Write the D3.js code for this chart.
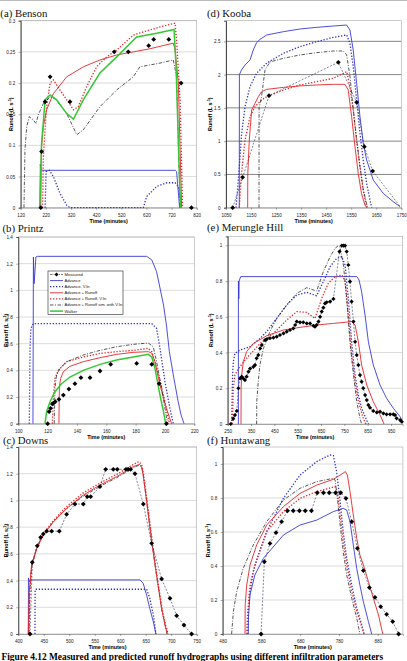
<!DOCTYPE html>
<html><head><meta charset="utf-8">
<script src="https://cdn.jsdelivr.net/npm/d3@7"></script>
<style>html,body{margin:0;padding:0;background:#fff;overflow:hidden}</style>
</head><body>
<svg id="c" width="407" height="661"></svg>
<script>
// ---------- (a) Benson ----------
const aMeasured = [[200,0],[203,0.09],[217,0.17],[237,0.21],[316,0.17],[492,0.25],[548,0.25],[629,0.26],[649,0.27],[709,0.27],[758,0.2],[799,0]];
const aAdvance = [[197,0],[198,0.07],[200,0.061],[205,0.06],[735,0.06],[740,0.058],[752,0]];
const aAdvanceVIn = [[217,0],[221,0.058],[234,0.06],[250,0.05],[276,0.023],[303,0.004],[316,0],[608,0],[621,0.018],[661,0.034],[701,0.04],[734,0.04],[747,0.034],[760,0]];
const aAdvRunoff = [[200,0],[202,0.093],[210,0.13],[223,0.157],[250,0.183],[303,0.21],[369,0.226],[435,0.237],[502,0.245],[568,0.25],[634,0.255],[727,0.264],[734,0.253],[747,0.2],[760,0]];
const aAdvRunoffVIn = [[207,0],[210,0.082],[223,0.162],[237,0.2],[250,0.205],[276,0.189],[303,0.173],[330,0.157],[349,0.162],[382,0.194],[422,0.226],[462,0.242],[502,0.253],[568,0.277],[608,0.282],[674,0.29],[734,0.296],[740,0.269],[754,0.173],[764,0]];
const aSimVIn = [[133,0],[137,0.093],[144,0.13],[154,0.146],[170,0.141],[181,0.135],[190,0.149],[210,0.167],[237,0.178],[257,0.175],[303,0.151],[343,0.117],[369,0.125],[435,0.162],[502,0.189],[568,0.21],[594,0.226],[674,0.232],[727,0.237],[740,0.21],[754,0]];
const aWalker = [[196,0],[203,0.103],[217,0.173],[237,0.181],[263,0.173],[303,0.151],[330,0.142],[369,0.173],[435,0.216],[502,0.242],[581,0.274],[661,0.28],[730,0.286],[738,0.226],[750,0.066],[756,0]];

// ---------- (b) Printz ----------
const bMeasured = [[120,0],[121,0.09],[122,0.115],[123.2,0.148],[124,0.155],[125.2,0.165],[127.7,0.183],[130.7,0.215],[134.5,0.26],[138.6,0.3],[142.7,0.345],[148.9,0.345],[155.7,0.395],[163,0.445],[180.7,0.452],[191,0.445],[196,0.3],[201,0]];
const bAdvance = [[110,0],[110.3,1.25],[110.8,1.05],[112,1.25],[113,1.255],[187.5,1.255],[191,1.228],[194.3,1.14],[199,0.89],[201,0.74],[203,0.54],[205.7,0.365],[209,0.165],[211,0.065],[213,0]];
const bAdvanceVIn = [[107.5,0],[108,0.565],[108.6,0.715],[110.2,0.75],[191,0.75],[194.3,0.715],[196.6,0.565],[200,0.315],[203.4,0.115],[205.7,0]];
const bAdvRunoff = [[127.7,0],[128,0.277],[128.9,0.34],[130.7,0.39],[135.2,0.43],[144.3,0.465],[155.7,0.495],[167,0.52],[178.4,0.535],[188.6,0.54],[191,0.528],[193.2,0.465],[196.6,0.29],[201,0.115],[204.5,0]];
const bAdvRunoffVIn = [[123.2,0],[124,0.215],[125,0.34],[127.3,0.4],[133,0.465],[144.3,0.5],[155.7,0.527],[167,0.54],[178.4,0.55],[188.6,0.565],[191,0.54],[194.3,0.415],[199,0.215],[203,0]];
const bSimVIn = [[124.5,0],[125,0.265],[126.1,0.365],[128.4,0.415],[133,0.465],[144.3,0.515],[155.7,0.55],[167,0.577],[178.4,0.595],[188.6,0.605],[192,0.577],[194.3,0.465],[197.7,0.265],[201.8,0]];
const bWalker = [[118.2,0],[119.3,0.09],[121.6,0.165],[125,0.24],[129.5,0.3],[135.2,0.35],[144.3,0.4],[155.7,0.445],[167,0.478],[178.4,0.5],[188.6,0.52],[191,0.5],[193.2,0.415],[196.6,0.215],[199,0.09],[200.5,0]];

// ---------- (c) Downs ----------
const cMeasured = [[423,0],[427.5,0.537],[437.3,0.66],[443.8,0.724],[449,0.749],[455.6,0.77],[465.4,0.77],[480.4,0.77],[494.8,0.896],[511.2,0.973],[527.5,0.973],[535.4,1.028],[541.9,1.028],[560.2,1.103],[571.4,1.233],[586.4,1.233],[594.2,1.233],[611.2,1.233],[615.8,1.233],[620.4,1.233],[628.9,1.2],[645.3,0.973],[661.6,0.679],[681.2,0.412],[697.6,0.267],[710.7,0.137],[725,0.067],[740,0]];
const cAdvance = [[419.6,0],[420,0.42],[421.5,0.39],[424,0.405],[638.7,0.405],[645,0.38],[651.8,0.29],[658,0.19],[665,0.09],[670,0]];
const cAdvanceVIn = [[432.7,0],[433,0.33],[434,0.335],[651.8,0.335],[658,0.267],[665,0.142],[670,0]];
const cAdvRunoff = [[419.6,0],[421.5,0.317],[426,0.517],[436,0.64],[449,0.74],[468.7,0.84],[494.8,0.94],[527.5,1.04],[560,1.115],[593,1.178],[625.6,1.253],[637.4,1.27],[642,1.253],[645,1.19],[651.8,0.99],[661.6,0.69],[671.4,0.44],[681.2,0.19],[687.8,0.067],[692.3,0]];
const cAdvRunoffVIn = [[421,0],[423,0.33],[427,0.52],[437,0.65],[449,0.75],[469,0.85],[495,0.955],[527,1.055],[560,1.13],[593,1.195],[626,1.27],[636,1.29],[642,1.27],[646,1.19],[653,0.99],[663,0.69],[672,0.44],[682,0.19],[689,0.067],[694,0]];
const cSimVIn = [[421,0],[422,0.3],[426,0.5],[436,0.64],[449,0.74],[469,0.84],[495,0.94],[527,1.03],[560,1.105],[593,1.17],[626,1.245],[637,1.265],[642,1.25],[645,1.19],[652,0.99],[662,0.69],[671,0.44],[681,0.19],[688,0.067],[692,0]];

// ---------- (d) Kooba ----------
const dMeasured = [[1076.6,0],[1116.5,0.456],[1221.7,1.683],[1498.5,2.184],[1571.7,1.583],[1602.3,0.917],[1635.6,0.551]];
const dMeasuredTail = [[1635.6,0.551],[1745,0.02]];
const dAdvance = [[1103,0],[1103.5,2.0],[1112,2.07],[1126,2.144],[1146,2.22],[1159,2.37],[1172,2.48],[1186,2.53],[1212,2.595],[1279,2.645],[1345,2.685],[1412,2.71],[1478.5,2.73],[1531.8,2.745],[1545,2.67],[1558,2.37],[1571.7,1.87],[1585,1.37],[1598,0.967],[1611.6,0.716],[1638,0.416],[1678,0.215],[1718,0.09],[1745,0.015]];
const dAdvanceVIn = [[1090,0],[1099,0.416],[1112.5,1.117],[1126,1.518],[1146,1.82],[1172,2.02],[1212,2.17],[1279,2.32],[1345,2.42],[1412,2.495],[1478.5,2.56],[1531.8,2.595],[1545,2.47],[1558,2.12],[1571.7,1.62],[1585,1.117],[1598,0.716],[1611.6,0.366],[1625,0.115],[1632,0]];
const dAdvRunoff = [[1136.5,0],[1137,0.5],[1143,1.017],[1152.5,1.468],[1165.8,1.568],[1179,1.668],[1192,1.743],[1212,1.778],[1279,1.808],[1345,1.83],[1412,1.844],[1478.5,1.854],[1525,1.854],[1538,1.77],[1551.7,1.368],[1565,0.917],[1578,0.516],[1591,0.215],[1605,0.04],[1611.6,0]];
const dAdvRunoffVIn = [[1103,0],[1112,0.516],[1126,1.017],[1146,1.368],[1166,1.518],[1192,1.618],[1212,1.668],[1279,1.768],[1345,1.844],[1412,1.894],[1478.5,1.944],[1531.8,2.044],[1545,1.819],[1558,1.468],[1571.7,1.017],[1585,0.616],[1598,0.266],[1611.6,0]];
const dSimVIn = [[1181.8,0],[1182,1.5],[1192,1.67],[1205.7,2.07],[1225.5,2.19],[1279,2.245],[1345,2.295],[1412,2.33],[1478.5,2.355],[1518.5,2.355],[1531.8,2.295],[1545,1.97],[1558.4,1.468],[1571.7,1.017],[1585,0.616],[1598.3,0.266],[1615.6,0]];

// ---------- (e) Merungle Hill ----------
const eMeasured = [[263,0],[274,0.03],[281,0.05],[289,0.073],[296,0.2],[303,0.255],[310,0.265],[317,0.255],[324,0.246],[331,0.265],[339,0.293],[346,0.31],[360,0.32],[367,0.33],[374,0.368],[381,0.386],[389,0.423],[396,0.442],[410,0.47],[417,0.474],[431,0.48],[446,0.483],[460,0.489],[474,0.498],[489,0.507],[503,0.517],[517,0.526],[531,0.535],[539,0.554],[546,0.573],[560,0.569],[574,0.569],[589,0.563],[603,0.563],[617,0.55],[624,0.545],[631,0.554],[639,0.573],[646,0.6],[653,0.629],[660,0.651],[667,0.675],[674,0.681],[689,0.685],[703,0.7],[729,0.965],[739,0.998],[746,0.998],[753,0.998],[760,0.965],[767,0.89],[774,0.797],[781,0.685],[789,0.573],[796,0.46],[803,0.386],[810,0.33],[817,0.274],[824,0.237],[831,0.2],[839,0.162],[846,0.134],[853,0.106],[860,0.091],[874,0.073],[889,0.065],[903,0.069],[917,0.06],[931,0.054],[946,0.054],[960,0.054],[967,0.05],[974,0.032],[989,0.022],[996,0.013]];
const eAdvance = [[295.7,0],[296,0.8],[297.5,0.7],[299,0.8],[305.7,0.825],[803,0.825],[813,0.806],[824,0.74],[838.6,0.61],[853,0.46],[874,0.33],[903,0.218],[931,0.144],[960,0.088],[988.6,0.041],[998,0.022]];
const eAdvanceVIn = [[267,0],[271,0.274],[274,0.349],[281,0.396],[303,0.414],[346,0.433],[389,0.479],[417,0.517],[460,0.591],[503,0.666],[546,0.722],[589,0.737],[631,0.718],[660,0.797],[689,0.881],[717,0.927],[739,0.937],[753,0.89],[767,0.703],[781,0.46],[796,0.274],[810,0.162],[824,0.088],[839,0.041],[853,0]];
const eAdvRunoff = [[307,0],[307.5,0.2],[310,0.274],[317,0.349],[331,0.405],[360,0.451],[417,0.494],[489,0.526],[560,0.541],[631,0.554],[703,0.563],[781,0.573],[796,0.554],[810,0.46],[824,0.33],[846,0.218],[874,0.125],[903,0.05],[920,0]];
const eAdvRunoffVIn = [[270,0],[274,0.2],[281,0.274],[296,0.31],[331,0.368],[389,0.451],[446,0.507],[503,0.582],[546,0.629],[589,0.625],[624,0.591],[653,0.703],[681,0.787],[710,0.825],[739,0.834],[753,0.797],[767,0.61],[781,0.386],[796,0.237],[810,0.125],[831,0.032],[842,0]];
const eSimVIn = [[374,0],[374.5,0.125],[381,0.237],[388,0.33],[403,0.423],[431,0.517],[460,0.591],[503,0.666],[546,0.731],[589,0.763],[631,0.744],[660,0.853],[689,0.937],[710,0.983],[724,0.998],[731,0.99],[746,0.89],[760,0.703],[774,0.46],[789,0.274],[803,0.125],[817,0.032],[824,0]];

// ---------- (f) Huntawang ----------
const fMeasured = [[579,0],[587.5,0.425],[602,0.533],[617.6,0.596],[632,0.661],[647,0.725],[662,0.725],[678,0.725],[693,0.725],[709,0.725],[724,0.831],[740,0.831],[755,0.831],[771,0.831],[784.5,0.831],[798,0.798],[813,0.661],[827.5,0.504],[843,0.373],[858.5,0.273],[873,0.216],[887.7,0.161],[903,0.116],[918.7,0.073],[934,0]];
const fAdvance = [[546,0],[546.5,0.1],[550.5,0.23],[563,0.347],[585,0.445],[636.6,0.582],[679.6,0.641],[722.6,0.67],[765.6,0.72],[791,0.739],[800,0.729],[808.6,0.661],[817,0.524],[825.8,0.386],[834,0.288],[843,0.19],[856,0.073],[864.5,0]];
const fAdvanceVIn = [[544.5,0],[546,0.131],[550.5,0.249],[559,0.367],[572,0.465],[593.5,0.602],[636.6,0.798],[679.6,0.935],[722.6,1.014],[757,1.053],[765.6,1.049],[774,0.955],[783,0.778],[791,0.602],[800,0.445],[813,0.288],[826,0.151],[839,0.053],[844.7,0]];
const fAdvRunoff = [[537.6,0],[538,0.17],[542,0.288],[550.5,0.406],[567.7,0.524],[593.5,0.641],[636.6,0.749],[679.6,0.827],[722.6,0.876],[765.6,0.91],[796.6,0.955],[801.7,0.935],[808.6,0.837],[817,0.7],[825.8,0.563],[834,0.465],[843,0.406],[856,0.308],[868.8,0.21],[882,0.112],[893,0]];
const fAdvRunoffVIn = [[542,0],[544.5,0.131],[550.5,0.288],[563,0.406],[593.5,0.602],[636.6,0.72],[679.6,0.798],[722.6,0.837],[770,0.867],[776,0.837],[783,0.7],[791,0.543],[800,0.406],[813,0.249],[826,0.131],[839,0.043],[844.7,0]];
const fSimVIn = [[503,0],[507.5,0.131],[516,0.249],[533,0.386],[559,0.524],[593.5,0.661],[636.6,0.788],[679.6,0.857],[722.6,0.896],[765.6,0.916],[770,0.906],[776,0.798],[783,0.641],[791,0.484],[800,0.347],[813,0.21],[826,0.092],[834,0]];

// ---------- ticks ----------
const aXTicks = [120,220,320,420,520,620,720,820];
const aYTicks = [0,0.05,0.1,0.15,0.2,0.25,0.3];
const bXTicks = [100,120,140,160,180,200,220];
const bYTicks = [0,0.2,0.4,0.6,0.8,1,1.2,1.4];
const cXTicks = [400,450,500,550,600,650,700,750];
const cYTicks = [0,0.2,0.4,0.6,0.8,1,1.2,1.4];
const dXTicks = [1050,1150,1250,1350,1450,1550,1650,1750];
const dYTicks = [0,0.5,1,1.5,2,2.5];
const eXTicks = [250,350,450,550,650,750,850,950];
const eYTicks = [0,0.2,0.4,0.6,0.8,1];
const fXTicks = [480,580,680,780,880];
const fYTicks = [0,0.2,0.4,0.6,0.8,1];

const legendLabels = ["Measured","Advance","Advance, V.In","Advance + Runoff","Advance + Runoff, V.In","Advance + Runoff sim. with V.In","Walker"];
const captionText = "Figure 4.12 Measured and predicted runoff hydrographs using different infiltration parameters";

// ---------- styles ----------
const styles = {
  measured:     {stroke:"#2b3550", width:0.6, dash:"2,1.5"},
  advance:      {stroke:"#3a3ad8", width:0.9, dash:null},
  advanceVIn:   {stroke:"#3030c8", width:1.3, dash:"1.3,1.7"},
  advRunoff:    {stroke:"#e4262a", width:0.9, dash:null},
  advRunoffVIn: {stroke:"#e4262a", width:1.3, dash:"1.3,1.7"},
  simVIn:       {stroke:"#111111", width:0.7, dash:"3.5,1.5,1,1.5"},
  walker:       {stroke:"#35c835", width:1.5, dash:null}
};
const legendKeys = ["measured","advance","advanceVIn","advRunoff","advRunoffVIn","simVIn","walker"];

const panels = [
  {title:"(a) Benson", tx:0.3, ty:17, x0:20.7, x1:196.7, yT:20.7, yB:207.7, xd:[120,820], yd:[0,0.3], xt:aXTicks, yt:aYTicks, grid:"#c4c4c4", ylx:13,
   series:[["advance",aAdvance],["advanceVIn",aAdvanceVIn],["advRunoff",aAdvRunoff],["advRunoffVIn",aAdvRunoffVIn],["simVIn",aSimVIn],["walker",aWalker]], meas:aMeasured, measLine:false},
  {title:"(b) Printz", tx:2.5, ty:231.5, x0:18.3, x1:194.3, yT:237, yB:423.7, xd:[100,220], yd:[0,1.4], xt:bXTicks, yt:bYTicks, grid:"#c4c4c4", ylx:7.5, legend:true,
   series:[["advance",bAdvance],["advanceVIn",bAdvanceVIn],["advRunoff",bAdvRunoff],["advRunoffVIn",bAdvRunoffVIn],["simVIn",bSimVIn],["walker",bWalker]], meas:bMeasured, measLine:false},
  {title:"(c) Downs", tx:3, ty:443.5, x0:18.3, x1:196.7, yT:447, yB:634, xd:[400,750], yd:[0,1.4], xt:cXTicks, yt:cYTicks, grid:"#c4c4c4", ylx:7.5,
   series:[["advance",cAdvance],["advanceVIn",cAdvanceVIn],["simVIn",cSimVIn],["advRunoffVIn",cAdvRunoffVIn],["advRunoff",cAdvRunoff]], meas:cMeasured, measLine:true},
  {title:"(d) Kooba", tx:207, ty:17, x0:226, x1:401.3, yT:20.7, yB:207.7, xd:[1050,1750], yd:[0,2.81], xt:dXTicks, yt:dYTicks, grid:"#333333", ylx:212,
   series:[["advance",dAdvance],["advanceVIn",dAdvanceVIn],["advRunoff",dAdvRunoff],["advRunoffVIn",dAdvRunoffVIn],["simVIn",dSimVIn],["measured",dMeasuredTail]], meas:dMeasured, measLine:true},
  {title:"(e) Merungle Hill", tx:207, ty:230.5, x0:227.7, x1:402.7, yT:236.4, yB:424, xd:[250,1000], yd:[0,1.05], xt:eXTicks, yt:eYTicks, grid:"#c4c4c4", ylx:213,
   series:[["advance",eAdvance],["advanceVIn",eAdvanceVIn],["advRunoff",eAdvRunoff],["advRunoffVIn",eAdvRunoffVIn],["simVIn",eSimVIn]], meas:eMeasured, measLine:true, small:true},
  {title:"(f) Huntawang", tx:207, ty:443.5, x0:222.7, x1:402.9, yT:447, yB:634, xd:[480,945], yd:[0,1.1], xt:fXTicks, yt:fYTicks, grid:"#c4c4c4", ylx:210,
   series:[["advance",fAdvance],["advanceVIn",fAdvanceVIn],["advRunoff",fAdvRunoff],["advRunoffVIn",fAdvRunoffVIn],["simVIn",fSimVIn]], meas:fMeasured, measLine:true}
];

const svg = d3.select("#c");
svg.append("line").attr("x1",0).attr("x2",407).attr("y1",0.5).attr("y2",0.5).attr("stroke","#bbb").attr("stroke-width",1);

const diamond = r => `M0,${-r}L${r},0L0,${r}L${-r},0Z`;
const fmt = v => String(+v.toFixed(2));

function styled(sel, st){
  sel.attr("fill","none").attr("stroke",st.stroke).attr("stroke-width",st.width);
  if(st.dash) sel.attr("stroke-dasharray",st.dash);
  return sel;
}

panels.forEach((p,i)=>{
  const x = d3.scaleLinear().domain(p.xd).range([p.x0,p.x1]);
  const y = d3.scaleLinear().domain(p.yd).range([p.yB,p.yT]);
  const g = svg.append("g");
  const cid = "clip"+i;
  g.append("clipPath").attr("id",cid).append("rect")
    .attr("x",p.x0).attr("y",p.yT-1).attr("width",p.x1-p.x0).attr("height",p.yB-p.yT+2);

  g.selectAll(".gl").data(p.yt.filter(v=>v>0)).enter().append("line")
    .attr("x1",p.x0).attr("x2",p.x1).attr("y1",d=>y(d)).attr("y2",d=>y(d))
    .attr("stroke",p.grid).attr("stroke-width",0.6);
  g.append("rect").attr("x",p.x0).attr("y",p.yT).attr("width",p.x1-p.x0).attr("height",p.yB-p.yT)
    .attr("fill","none").attr("stroke","#a8a8a8").attr("stroke-width",0.6);
  const yAxis = d3.axisLeft(y).tickValues(p.yt).tickSize(2).tickFormat(fmt);
  const xAxis = d3.axisBottom(x).tickValues(p.xt).tickSize(2).tickFormat(d3.format("d"));
  const ya = g.append("g").attr("transform",`translate(${p.x0},0)`).call(yAxis);
  const xa = g.append("g").attr("transform",`translate(0,${p.yB})`).call(xAxis);
  [ya,xa].forEach(a=>{
    a.selectAll("text").attr("font-family","'Liberation Sans',Arial,sans-serif").attr("font-size",4.6).attr("fill","#222");
    a.selectAll("line").attr("stroke","#555").attr("stroke-width",0.5);
  });
  ya.select(".domain").attr("stroke","#222").attr("stroke-width",0.8);
  xa.select(".domain").attr("stroke","#888").attr("stroke-width",0.7);
  ya.selectAll("text").attr("dx",-0.5);
  xa.selectAll("text").attr("dy","0.9em");

  g.append("text").attr("x",(p.x0+p.x1)/2).attr("y",p.yB+14.8).attr("text-anchor","middle")
    .attr("font-family","'Liberation Sans',Arial,sans-serif").attr("font-weight","bold").attr("font-size",5.4)
    .text("Time (minutes)");
  const yl = g.append("text").attr("transform",`translate(${p.ylx},${(p.yT+p.yB)/2}) rotate(-90)`)
    .attr("text-anchor","middle").attr("font-family","'Liberation Sans',Arial,sans-serif")
    .attr("font-weight","bold").attr("font-size",5.4);
  yl.append("tspan").text("Runoff (L s");
  yl.append("tspan").attr("baseline-shift","super").attr("font-size",3.8).text("-1");
  yl.append("tspan").text(")");

  svg.append("text").attr("x",p.tx).attr("y",p.ty).attr("font-family","'Liberation Serif','Times New Roman',serif")
    .attr("font-size",10.8).attr("fill","#111").text(p.title);

  const line = d3.line().x(d=>x(d[0])).y(d=>y(d[1]));
  const sg = g.append("g").attr("clip-path",`url(#${cid})`);
  p.series.forEach(([k,data])=>{
    styled(sg.append("path").attr("d",line(data)), styles[k]);
  });
  if(p.measLine) styled(sg.append("path").attr("d",line(p.meas)), styles.measured);
  const r = p.small ? 2.1 : 2.4;
  g.selectAll(".m").data(p.meas).enter().append("path")
    .attr("d",diamond(r)).attr("transform",d=>`translate(${x(d[0])},${y(d[1])})`).attr("fill","#000");

  if(p.legend){
    const lx = 48, ly = 271, lw = 75, lh = 43.5, rowH = 6.1;
    const lg = svg.append("g");
    lg.append("rect").attr("x",lx).attr("y",ly).attr("width",lw).attr("height",lh)
      .attr("fill","#fff").attr("stroke","#222").attr("stroke-width",0.6);
    legendKeys.forEach((k,j)=>{
      const yy = ly + 3.5 + j*rowH;
      const st = k==="measured" ? {stroke:"#222", width:0.6, dash:"2.5,1,1,1"} : styles[k];
      styled(lg.append("line").attr("x1",lx+2).attr("x2",lx+15).attr("y1",yy).attr("y2",yy), st);
      if(k==="measured") lg.append("path").attr("d",diamond(2)).attr("transform",`translate(${lx+8.5},${yy})`).attr("fill","#000");
      lg.append("text").attr("x",lx+16.5).attr("y",yy+1.4).attr("font-family","'Liberation Sans',Arial,sans-serif")
        .attr("font-size",4.1).attr("fill","#111").text(legendLabels[j]);
    });
  }
});

svg.append("text").attr("x",1.5).attr("y",659.6).attr("font-family","'Liberation Serif','Times New Roman',serif")
  .attr("font-weight","bold").attr("font-size",9.4).attr("fill","#000").text(captionText);
</script>
</body></html>
